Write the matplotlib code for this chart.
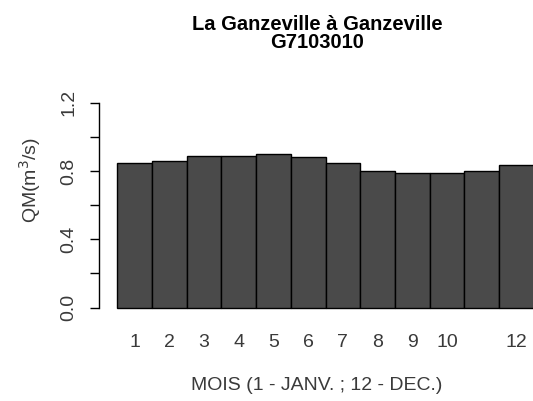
import matplotlib.pyplot as plt
import numpy as np

# debits moyens mensuels (m3/s)
mois = [1, 2, 3, 4, 5, 6, 7, 8, 9, 10, 11, 12]
qm = [0.845, 0.859, 0.888, 0.888, 0.902, 0.880, 0.845, 0.800, 0.791, 0.791, 0.802, 0.835]
mois_labels = ['1', '2', '3', '4', '5', '6', '7', '8', '9', '10', '', '12']
y_ticks = [0.0, 0.2, 0.4, 0.6, 0.8, 1.0, 1.2]
y_labels = ['0.0', '', '0.4', '', '0.8', '', '1.2']

plt.rcParams['font.family'] = ['Liberation Sans', 'DejaVu Sans']

W, H = 533, 401
fig = plt.figure(figsize=(W / 100, H / 100), dpi=100)

# zone de trace en pixels
left, right, top, bottom = 99, 533.7, 95, 315
ax = fig.add_axes([left / W, 1 - bottom / H, (right - left) / W, (bottom - top) / H])

ax.bar(mois, qm, width=1.0, color='#4a4a4a', edgecolor='black', linewidth=1.0)

ax.set_xlim(-0.03, 12.5)
ax.set_ylim(-0.043, 1.245)

for s in ['top', 'right', 'bottom']:
    ax.spines[s].set_visible(False)
ax.spines['left'].set_bounds(0, 1.2)
ax.spines['left'].set_linewidth(1.0)

ax.set_yticks(y_ticks)
ax.set_yticklabels(y_labels, rotation=90, va='center', fontsize=14, color='#3a3a3a')
ax.tick_params(axis='y', length=6.5, width=1.0, pad=9)

ax.set_xticks(mois)
ax.set_xticklabels(mois_labels, fontsize=14, color='#3a3a3a')
ax.tick_params(axis='x', length=0, pad=14)

fig.text(317 / W, 1 - 24 / H, 'La Ganzeville à Ganzeville', ha='center', va='center',
         fontsize=14.5, fontweight='bold')
fig.text(317 / W, 1 - 43 / H, 'G7103010', ha='center', va='center',
         fontsize=14.5, fontweight='bold')
fig.text(317 / W, 1 - 386 / H, 'MOIS (1 - JANV. ; 12 - DEC.)', ha='center', va='center',
         fontsize=14, color='#3a3a3a')
fig.text(30 / W, 1 - 180 / H, r'QM(m$^3$/s)', ha='center', va='center', rotation=90,
         fontsize=14, color='#3a3a3a')

fig.savefig('out.png', dpi=100)
